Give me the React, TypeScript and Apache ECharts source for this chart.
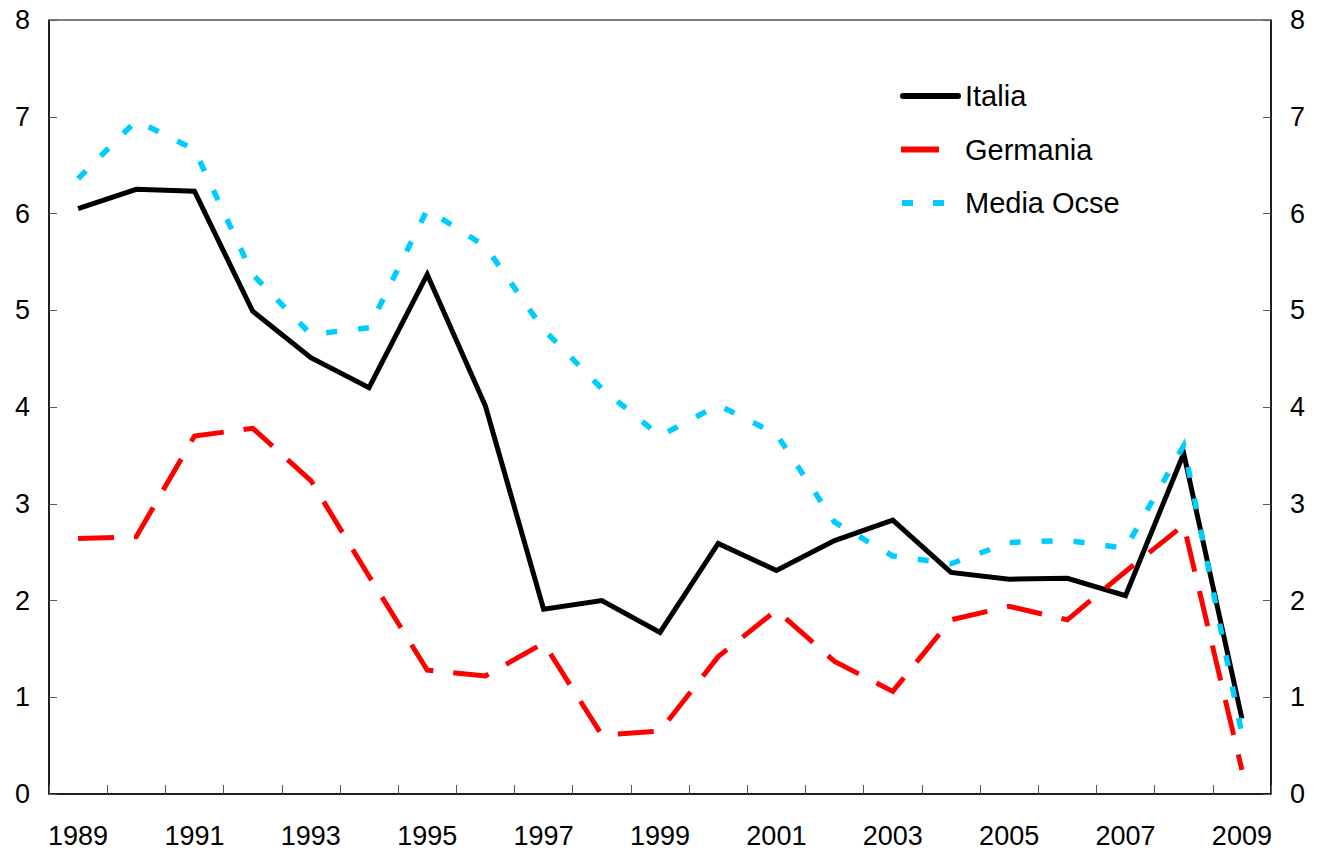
import React, { useEffect, useRef } from "react";
import * as echarts from "echarts";

const years = ["1989","1990","1991","1992","1993","1994","1995","1996","1997","1998","1999","2000","2001","2002","2003","2004","2005","2006","2007","2008","2009"];
const italia = [6.05, 6.25, 6.23, 4.99, 4.51, 4.20, 5.37, 4.01, 1.91, 2.00, 1.67, 2.59, 2.31, 2.62, 2.83, 2.29, 2.22, 2.23, 2.05, 3.52, 0.78];
const germania = [2.64, 2.66, 3.70, 3.78, 3.24, 2.25, 1.28, 1.22, 1.56, 0.61, 0.65, 1.42, 1.90, 1.37, 1.06, 1.80, 1.94, 1.80, 2.30, 2.78, 0.25];
const ocse = [6.36, 6.96, 6.66, 5.37, 4.75, 4.82, 6.04, 5.66, 4.80, 4.19, 3.70, 4.02, 3.72, 2.81, 2.46, 2.38, 2.60, 2.62, 2.54, 3.60, 0.62];
const legendNames = ["Italia", "Germania", "Media Ocse"];

const FONT = "Liberation Sans, Arial, sans-serif";
const COLORS = ["#000000", "#ff0000", "#00ccff"];
const WIDTHS = [5, 5, 5.5];
const DASHES: any[] = ["solid", [36, 20], [11, 21]];

export default function App() {
  const ref = useRef<HTMLDivElement>(null);
  useEffect(() => {
    document.body.style.margin = "0";
    const chart = echarts.init(ref.current!, null, { renderer: "svg" });
    const yAxisCommon = {
      type: "value",
      min: 0,
      max: 8,
      interval: 1,
      splitLine: { show: false },
      axisLine: { show: true, lineStyle: { color: "#000", width: 1.5 } },
      axisTick: { show: true, inside: true, length: 8, lineStyle: { color: "#555", width: 1 } },
      axisLabel: { color: "#000", fontSize: 27, fontFamily: FONT, margin: 19 },
    };
    const legendGraphics: any[] = [];
    legendNames.forEach((name, i) => {
      const y = 96 + i * 53.5;
      if (i === 0) {
        legendGraphics.push({
          type: "line",
          shape: { x1: 903, y1: y, x2: 958, y2: y },
          style: { stroke: COLORS[0], lineWidth: 6, lineCap: "round" },
        });
      } else if (i === 1) {
        legendGraphics.push({
          type: "line",
          shape: { x1: 901, y1: y, x2: 939, y2: y },
          style: { stroke: COLORS[1], lineWidth: 6 },
        });
      } else {
        legendGraphics.push({
          type: "line",
          shape: { x1: 902, y1: y, x2: 913, y2: y },
          style: { stroke: COLORS[2], lineWidth: 6 },
        });
        legendGraphics.push({
          type: "line",
          shape: { x1: 933, y1: y, x2: 944, y2: y },
          style: { stroke: COLORS[2], lineWidth: 6 },
        });
      }
      legendGraphics.push({
        type: "text",
        x: 965,
        y: y,
        style: {
          text: name,
          fill: "#000",
          font: `29px ${FONT}`,
          textVerticalAlign: "middle",
          verticalAlign: "middle",
        },
      });
    });
    chart.setOption({
      animation: false,
      backgroundColor: "#fff",
      grid: { left: 49, right: 54, top: 20, bottom: 61, show: true, borderColor: "#000", borderWidth: 1 },
      graphic: legendGraphics,
      xAxis: {
        type: "category",
        data: years,
        boundaryGap: true,
        axisLine: { show: true, lineStyle: { color: "#000", width: 1.5 } },
        axisTick: { show: true, inside: true, length: 9, interval: 0, lineStyle: { color: "#555", width: 1 } },
        axisLabel: { color: "#000", fontSize: 27, fontFamily: FONT, margin: 28, interval: 1 },
        splitLine: { show: false },
      },
      yAxis: [
        { ...yAxisCommon, position: "left" },
        { ...yAxisCommon, position: "right" },
      ],
      series: [
        { name: legendNames[0], data: italia },
        { name: legendNames[1], data: germania },
        { name: legendNames[2], data: ocse },
      ].map((s, i) => ({
        ...s,
        type: "line",
        symbol: "none",
        showSymbol: false,
        lineStyle: { color: COLORS[i], width: WIDTHS[i], type: DASHES[i], cap: "butt", join: "miter" },
        itemStyle: { color: COLORS[i] },
      })),
    });
    return () => chart.dispose();
  }, []);
  return <div ref={ref} style={{ width: 1325, height: 855 }} />;
}
